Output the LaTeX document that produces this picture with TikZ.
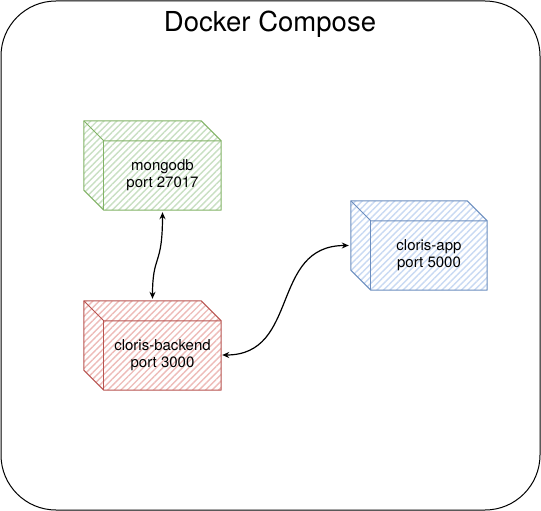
\documentclass[tikz,border=0pt]{standalone}
\usepackage{fontspec}
\setmainfont{TeX Gyre Heros}
\usetikzlibrary{patterns.meta,arrows.meta}
\definecolor{gfill}{HTML}{D5E8D4}\definecolor{gstroke}{HTML}{82B366}
\definecolor{rfill}{HTML}{F8CECC}\definecolor{rstroke}{HTML}{B85450}
\definecolor{bfill}{HTML}{DAE8FC}\definecolor{bstroke}{HTML}{6C8EBF}
\newcommand\cubeshape[3]{%
  \path[draw=#3, line width=1pt, line join=round,
        pattern={Lines[angle=45,distance=4.6pt,line width=1.4pt]}, pattern color=#2]
    (#1.north west) -- ([shift={(-20,0)}]#1.north east) -- ([shift={(0,20)}]#1.north east)
    -- (#1.south east) -- ([shift={(20,0)}]#1.south west) -- ([shift={(0,-20)}]#1.south west) -- cycle;
  \draw[#3, line width=1pt, line join=round]
    (#1.north west) -- ([shift={(20,20)}]#1.north west) -- ([shift={(0,20)}]#1.north east);
  \draw[#3, line width=1pt] ([shift={(20,20)}]#1.north west) -- ([shift={(20,0)}]#1.south west);
}
\begin{document}
\begin{tikzpicture}[x=1pt,y=-1pt,
  cubebox/.style={inner sep=0pt, minimum width=137pt, minimum height=89pt},
  lbl/.style={align=center, font=\fontsize{15}{17}\selectfont},
  conn/.style={line width=1.2pt, {Stealth[open,length=7pt,width=6pt]}-{Stealth[open,length=7pt,width=6pt]}}]
\fill[white] (0,0) rectangle (541,511);
\useasboundingbox (0,0) rectangle (541,511);
\node (compose) [draw, rounded corners=55pt, line width=1pt, minimum width=539pt, minimum height=509pt, inner sep=0pt] at (270.5,255.5) {};
\node (title) [anchor=base, font=\fontsize{27.5}{30}\selectfont] at (270,32) {Docker Compose};
\node (mongo) [cubebox] at (152.5,165.5) {};
\node (backend) [cubebox] at (152.5,345.5) {};
\node (app) [cubebox, minimum width=136pt] at (419,245.5) {};
\cubeshape{mongo}{gfill!85!gstroke}{gstroke}
\cubeshape{backend}{rfill!85!rstroke}{rstroke}
\cubeshape{app}{bfill!85!bstroke}{bstroke}
\node (mongo-label) [lbl] at ([shift={(10,10)}]mongo.center) {mongodb\\port 27017};
\node (backend-label) [lbl] at ([shift={(10,10)}]backend.center) {cloris-backend\\port 3000};
\node (app-label) [lbl] at ([shift={(10,10)}]app.center) {cloris-app\\port 5000};
\draw[conn] ([shift={(10,2)}]mongo.south) .. controls +(0,55) and +(0,-45) .. ([shift={(0,-2)}]backend.north);
\draw[conn] ([shift={(1,9.5)}]backend.east) .. controls +(78,0) and +(-79,0) .. ([shift={(-2,0)}]app.west);
\end{tikzpicture}
\end{document}
